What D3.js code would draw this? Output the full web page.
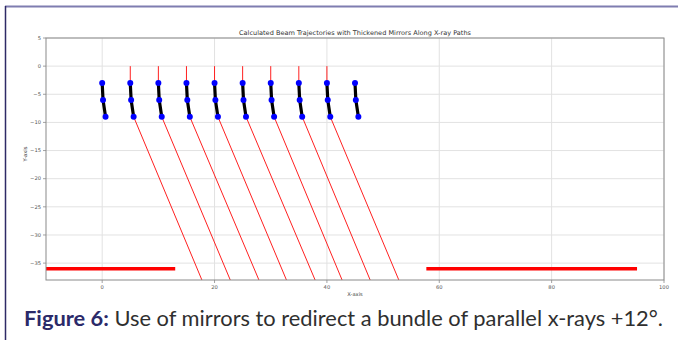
<!DOCTYPE html>
<html><head><meta charset="utf-8">
<script src="https://cdn.jsdelivr.net/npm/d3@7"></script>
<style>
html,body{margin:0;padding:0;background:#fff;}
svg{display:block;}
</style></head>
<body>
<svg id="chart" width="678" height="340"></svg>
<script>
// ---- data ----
const xTicks = [0, 20, 40, 60, 80, 100];
const yTicks = [5, 0, -5, -10, -15, -20, -25, -30, -35];
const xDomain = [-10, 100];
const yDomain = [-38, 5];
const mirrorX = [0, 5, 10, 15, 20, 25, 30, 35, 40, 45];
const mirrorY = [-3, -6, -9];
const mirrorBend = [0, 0.15, 0.6];
const rayX = [5, 10, 15, 20, 25, 30, 35, 40];
const rayTopY = 0;
const rayEndX = [17.75, 22.8, 27.9, 32.8, 37.9, 42.7, 47.7, 52.8];
const rayEndY = -38;
const detectorStart = [-10, 57.7];
const detectorEnd = [13, 95.2];
const detectorY = -36;
const titleText = "Calculated Beam Trajectories with Thickened Mirrors Along X-ray Paths";
const xLabel = "X-axis";
const yLabel = "Y-axis";

// ---- layout ----
const svg = d3.select("#chart");
const L = 46, R = 664, T = 38, B = 280;
const x = d3.scaleLinear().domain(xDomain).range([L, R]);
const y = d3.scaleLinear().domain(yDomain).range([B, T]);
const fmt = d => (d < 0 ? "\u2212" + Math.abs(d) : String(d));

// frame
svg.append("line").attr("x1", 5).attr("x2", 678).attr("y1", 6.5).attr("y2", 6.5)
  .attr("stroke", "#7f7db0").attr("stroke-width", 2);
svg.append("line").attr("x1", 5.5).attr("x2", 5.5).attr("y1", 6).attr("y2", 340)
  .attr("stroke", "#2e2a66").attr("stroke-width", 1.5);

// grid
const g = svg.append("g");
g.selectAll(".gx").data(xTicks).join("line")
  .attr("x1", d => x(d)).attr("x2", d => x(d)).attr("y1", T).attr("y2", B)
  .attr("stroke", "#e2e2e2").attr("stroke-width", 1);
g.selectAll(".gy").data(yTicks).join("line")
  .attr("y1", d => y(d)).attr("y2", d => y(d)).attr("x1", L).attr("x2", R)
  .attr("stroke", "#e2e2e2").attr("stroke-width", 1);

svg.append("clipPath").attr("id", "clip").append("rect")
  .attr("x", L).attr("y", T).attr("width", R - L).attr("height", B - T);
const plot = svg.append("g").attr("clip-path", "url(#clip)");

// incoming rays
plot.selectAll(".in").data(rayX).join("line")
  .attr("x1", d => x(d)).attr("x2", d => x(d))
  .attr("y1", y(rayTopY)).attr("y2", y(mirrorY[0]))
  .attr("stroke", "#ff2020").attr("stroke-width", 1);

// outgoing rays
plot.selectAll(".out").data(rayX).join("line")
  .attr("x1", d => x(d + mirrorBend[2])).attr("y1", y(mirrorY[2]))
  .attr("x2", (d, i) => x(rayEndX[i])).attr("y2", y(rayEndY))
  .attr("stroke", "#ff2020").attr("stroke-width", 1);

// detectors
plot.selectAll(".det").data(detectorStart).join("line")
  .attr("x1", d => x(d)).attr("x2", (d, i) => x(detectorEnd[i]))
  .attr("y1", y(detectorY)).attr("y2", y(detectorY))
  .attr("stroke", "#ff0000").attr("stroke-width", 3.5);

// mirrors
const line = d3.line().x(d => x(d[0])).y(d => y(d[1]));
mirrorX.forEach(mx => {
  const pts = mirrorY.map((my, i) => [mx + mirrorBend[i], my]);
  plot.append("path").datum(pts).attr("d", line)
    .attr("fill", "none").attr("stroke", "#000").attr("stroke-width", 3.2);
  plot.selectAll(null).data(pts).join("circle")
    .attr("cx", d => x(d[0])).attr("cy", d => y(d[1])).attr("r", 3)
    .attr("fill", "#0000ff");
});

// spines
svg.append("rect").attr("x", L).attr("y", T).attr("width", R - L).attr("height", B - T)
  .attr("fill", "none").attr("stroke", "#8a8a8a").attr("stroke-width", 1);

// ticks
const tickCol = "#555";
svg.selectAll(".xt").data(xTicks).join("line")
  .attr("x1", d => x(d)).attr("x2", d => x(d)).attr("y1", B).attr("y2", B + 3)
  .attr("stroke", "#8a8a8a").attr("stroke-width", 0.8);
svg.selectAll(".xl").data(xTicks).join("text")
  .attr("x", d => x(d)).attr("y", B + 9).attr("text-anchor", "middle")
  .attr("font-family", "DejaVu Sans").attr("font-size", 5.2).attr("fill", tickCol)
  .text(fmt);
svg.selectAll(".yt").data(yTicks).join("line")
  .attr("y1", d => y(d)).attr("y2", d => y(d)).attr("x1", L - 3).attr("x2", L)
  .attr("stroke", "#8a8a8a").attr("stroke-width", 0.8);
svg.selectAll(".yl").data(yTicks).join("text")
  .attr("x", L - 5).attr("y", d => y(d) + 1.8).attr("text-anchor", "end")
  .attr("font-family", "DejaVu Sans").attr("font-size", 5.2).attr("fill", tickCol)
  .text(fmt);

// labels
svg.append("text").attr("x", (L + R) / 2).attr("y", 35).attr("text-anchor", "middle")
  .attr("font-family", "DejaVu Sans").attr("font-size", 6.4).attr("fill", "#333")
  .attr("textLength", 232).attr("lengthAdjust", "spacingAndGlyphs")
  .text(titleText);
svg.append("text").attr("x", (L + R) / 2).attr("y", 296).attr("text-anchor", "middle")
  .attr("font-family", "DejaVu Sans").attr("font-size", 5.2).attr("fill", "#444")
  .text(xLabel);
svg.append("text").attr("transform", `translate(27,${(T + B) / 2 - 5}) rotate(-90)`)
  .attr("text-anchor", "middle")
  .attr("font-family", "DejaVu Sans").attr("font-size", 5.2).attr("fill", "#444")
  .text(yLabel);

// caption
const cap = svg.append("text").attr("x", 24).attr("y", 326)
  .attr("font-family", "Lato").attr("font-size", 21)
  .attr("textLength", 639).attr("lengthAdjust", "spacingAndGlyphs");
cap.append("tspan").attr("font-weight", "bold").attr("fill", "#2b2a69").text("Figure 6:");
cap.append("tspan").attr("fill", "#2f2f2f").text(" Use of mirrors to redirect a bundle of parallel x-rays +12\u00B0.");
</script>
</body></html>
